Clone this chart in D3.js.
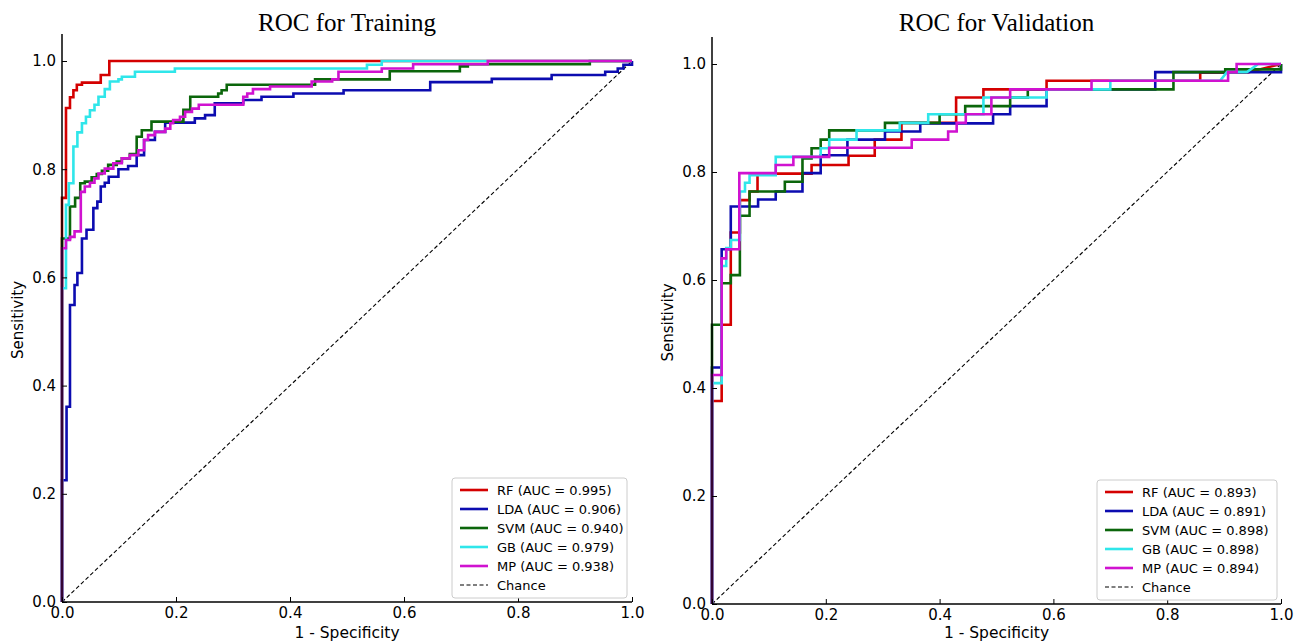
<!DOCTYPE html>
<html>
<head>
<meta charset="utf-8">
<script src="https://cdn.jsdelivr.net/npm/d3@7"></script>
<style>
  body { margin: 0; background: #fff; }
  svg { display: block; }
</style>
</head>
<body>
<svg id="chart" width="1306" height="642"></svg>
<script>
// ---- data ----
const models = ["RF", "LDA", "SVM", "GB", "MP"];
const colors = ["#d40000", "#0c0cb0", "#0b660b", "#2fe6ea", "#d012d0"];
const trainAUC = ["0.995", "0.906", "0.940", "0.979", "0.938"];
const valAUC = ["0.893", "0.891", "0.898", "0.898", "0.894"];
const tickValues = [0, 0.2, 0.4, 0.6, 0.8, 1.0];

// ROC vertices [fpr, tpr]
const trainRF = [[0,0],[0,0.747],[0.007,0.747],[0.007,0.913],[0.014,0.913],[0.014,0.933],[0.02,0.933],[0.02,0.946],[0.026,0.946],[0.026,0.956],[0.035,0.956],[0.035,0.96],[0.068,0.96],[0.068,0.974],[0.083,0.974],[0.083,1],[1,1]];
const trainLDA = [[0,0],[0,0.225],[0.008,0.225],[0.008,0.361],[0.014,0.361],[0.014,0.549],[0.022,0.549],[0.022,0.586],[0.027,0.586],[0.027,0.608],[0.035,0.608],[0.035,0.672],[0.043,0.672],[0.043,0.688],[0.055,0.688],[0.055,0.728],[0.062,0.728],[0.062,0.74],[0.068,0.74],[0.068,0.768],[0.075,0.768],[0.075,0.775],[0.082,0.775],[0.082,0.786],[0.099,0.786],[0.099,0.8],[0.116,0.8],[0.116,0.806],[0.131,0.806],[0.131,0.826],[0.144,0.826],[0.144,0.854],[0.163,0.854],[0.163,0.869],[0.181,0.869],[0.181,0.886],[0.233,0.886],[0.233,0.894],[0.251,0.894],[0.251,0.9],[0.268,0.9],[0.268,0.922],[0.318,0.922],[0.318,0.928],[0.35,0.928],[0.35,0.934],[0.406,0.934],[0.406,0.94],[0.494,0.94],[0.494,0.946],[0.646,0.946],[0.646,0.961],[0.754,0.961],[0.754,0.967],[0.859,0.967],[0.859,0.974],[0.953,0.974],[0.953,0.98],[0.975,0.98],[0.975,0.986],[0.985,0.986],[0.985,0.993],[1,0.993],[1,1]];
const trainSVM = [[0,0],[0,0.672],[0.014,0.672],[0.014,0.731],[0.023,0.731],[0.023,0.747],[0.032,0.747],[0.032,0.774],[0.04,0.774],[0.04,0.777],[0.052,0.777],[0.052,0.785],[0.061,0.785],[0.061,0.791],[0.07,0.791],[0.07,0.797],[0.081,0.797],[0.081,0.808],[0.096,0.808],[0.096,0.814],[0.105,0.814],[0.105,0.82],[0.119,0.82],[0.119,0.828],[0.131,0.828],[0.131,0.86],[0.14,0.86],[0.14,0.872],[0.157,0.872],[0.157,0.888],[0.213,0.888],[0.213,0.91],[0.225,0.91],[0.225,0.934],[0.274,0.934],[0.274,0.94],[0.28,0.94],[0.28,0.946],[0.289,0.946],[0.289,0.956],[0.444,0.956],[0.444,0.966],[0.575,0.966],[0.575,0.981],[0.698,0.981],[0.698,0.99],[0.712,0.99],[0.712,0.994],[0.926,0.994],[0.926,1],[1,1]];
const trainGB = [[0,0],[0,0.58],[0.007,0.58],[0.007,0.734],[0.012,0.734],[0.012,0.774],[0.02,0.774],[0.02,0.842],[0.027,0.842],[0.027,0.868],[0.035,0.868],[0.035,0.885],[0.042,0.885],[0.042,0.897],[0.049,0.897],[0.049,0.909],[0.057,0.909],[0.057,0.919],[0.064,0.919],[0.064,0.934],[0.075,0.934],[0.075,0.948],[0.084,0.948],[0.084,0.962],[0.099,0.962],[0.099,0.966],[0.105,0.966],[0.105,0.971],[0.128,0.971],[0.128,0.98],[0.198,0.98],[0.198,0.986],[0.535,0.986],[0.535,0.993],[0.561,0.993],[0.561,1],[1,1]];
const trainMP = [[0,0],[0,0.654],[0.007,0.654],[0.007,0.669],[0.014,0.669],[0.014,0.675],[0.022,0.675],[0.022,0.685],[0.033,0.685],[0.033,0.758],[0.04,0.758],[0.04,0.768],[0.049,0.768],[0.049,0.775],[0.057,0.775],[0.057,0.783],[0.064,0.783],[0.064,0.792],[0.075,0.792],[0.075,0.801],[0.09,0.801],[0.09,0.811],[0.105,0.811],[0.105,0.82],[0.119,0.82],[0.119,0.826],[0.134,0.826],[0.134,0.835],[0.144,0.835],[0.144,0.854],[0.151,0.854],[0.151,0.863],[0.163,0.863],[0.163,0.869],[0.181,0.869],[0.181,0.875],[0.19,0.875],[0.19,0.885],[0.195,0.885],[0.195,0.891],[0.207,0.891],[0.207,0.897],[0.216,0.897],[0.216,0.906],[0.228,0.906],[0.228,0.912],[0.24,0.912],[0.24,0.919],[0.318,0.919],[0.318,0.934],[0.325,0.934],[0.325,0.94],[0.335,0.94],[0.335,0.948],[0.365,0.948],[0.365,0.953],[0.438,0.953],[0.438,0.962],[0.474,0.962],[0.474,0.966],[0.485,0.966],[0.485,0.98],[0.561,0.98],[0.561,0.986],[0.616,0.986],[0.616,0.994],[0.747,0.994],[0.747,1],[1,1]];

const valRF = [[0,0],[0,0.376],[0.017,0.376],[0.017,0.517],[0.033,0.517],[0.033,0.688],[0.049,0.688],[0.049,0.748],[0.066,0.748],[0.066,0.764],[0.08,0.764],[0.08,0.797],[0.175,0.797],[0.175,0.813],[0.24,0.813],[0.24,0.83],[0.286,0.83],[0.286,0.86],[0.333,0.86],[0.333,0.891],[0.429,0.891],[0.429,0.938],[0.477,0.938],[0.477,0.953],[0.588,0.953],[0.588,0.969],[0.858,0.969],[0.858,0.984],[0.94,0.984],[1,1]];
const valLDA = [[0,0],[0,0.438],[0.017,0.438],[0.017,0.657],[0.033,0.657],[0.033,0.736],[0.081,0.736],[0.081,0.749],[0.112,0.749],[0.112,0.764],[0.159,0.764],[0.159,0.798],[0.191,0.798],[0.191,0.831],[0.238,0.831],[0.238,0.86],[0.304,0.86],[0.304,0.875],[0.366,0.875],[0.366,0.89],[0.494,0.89],[0.494,0.907],[0.524,0.907],[0.524,0.922],[0.588,0.922],[0.588,0.953],[0.779,0.953],[0.779,0.985],[1,0.985],[1,1]];
const valSVM = [[0,0],[0,0.517],[0.017,0.517],[0.017,0.594],[0.033,0.594],[0.033,0.609],[0.049,0.609],[0.049,0.719],[0.066,0.719],[0.066,0.764],[0.128,0.764],[0.128,0.782],[0.159,0.782],[0.159,0.825],[0.175,0.825],[0.175,0.844],[0.191,0.844],[0.191,0.86],[0.206,0.86],[0.206,0.877],[0.304,0.877],[0.304,0.891],[0.4,0.891],[0.4,0.907],[0.445,0.907],[0.445,0.922],[0.524,0.922],[0.524,0.938],[0.555,0.938],[0.555,0.953],[0.811,0.953],[0.811,0.985],[0.902,0.985],[0.902,0.99],[1,0.99],[1,1]];
const valGB = [[0,0],[0,0.409],[0.017,0.409],[0.017,0.626],[0.025,0.626],[0.025,0.659],[0.033,0.659],[0.033,0.674],[0.049,0.674],[0.049,0.764],[0.058,0.764],[0.058,0.78],[0.066,0.78],[0.066,0.794],[0.112,0.794],[0.112,0.828],[0.191,0.828],[0.191,0.844],[0.206,0.844],[0.206,0.86],[0.254,0.86],[0.254,0.877],[0.33,0.877],[0.33,0.891],[0.38,0.891],[0.38,0.907],[0.477,0.907],[0.477,0.938],[0.588,0.938],[0.588,0.953],[0.7,0.953],[0.7,0.969],[0.893,0.969],[0.905,0.985],[0.94,0.985],[0.96,1],[1,1]];
const valMP = [[0,0],[0,0.424],[0.017,0.424],[0.017,0.64],[0.025,0.64],[0.025,0.657],[0.048,0.657],[0.048,0.798],[0.112,0.798],[0.112,0.813],[0.143,0.813],[0.143,0.828],[0.206,0.828],[0.206,0.845],[0.351,0.845],[0.351,0.86],[0.415,0.86],[0.415,0.875],[0.43,0.875],[0.43,0.891],[0.446,0.891],[0.446,0.907],[0.491,0.907],[0.491,0.938],[0.524,0.938],[0.524,0.953],[0.667,0.953],[0.667,0.969],[0.907,0.969],[0.907,0.985],[0.922,0.985],[0.922,1],[1,1]];

// ---- drawing ----
const svg = d3.select("#chart");
const sans = "DejaVu Sans, sans-serif";

function drawPanel(p) {
  const x = d3.scaleLinear().domain([0, 1]).range([p.x0, p.x1]);
  const y = d3.scaleLinear().domain([0, 1]).range([p.y0, p.y1]);
  const yTop = y(1.05);
  const g = svg.append("g");

  // title
  g.append("text")
    .attr("x", (p.x0 + p.x1) / 2)
    .attr("y", 31)
    .attr("text-anchor", "middle")
    .attr("font-family", "Liberation Serif, Times New Roman, serif")
    .attr("font-size", 25)
    .text(p.title);

  // chance line
  g.append("line")
    .attr("x1", x(0)).attr("y1", y(0))
    .attr("x2", x(1)).attr("y2", y(1))
    .attr("stroke", "#000")
    .attr("stroke-width", 1.1)
    .attr("stroke-dasharray", "4,2.5");

  // ROC curves
  const line = d3.line().x((d) => x(d[0])).y((d) => y(d[1]));
  p.curves.forEach((c, i) => {
    g.append("path")
      .datum(c)
      .attr("fill", "none")
      .attr("stroke", colors[i])
      .attr("stroke-width", 2.6)
      .attr("stroke-linejoin", "miter")
      .attr("d", line);
  });

  // axes, ticks pointing inward
  const xAxis = d3.axisTop(x).tickValues(tickValues).tickFormat(d3.format(".1f")).tickSize(5);
  const xg = g.append("g").attr("transform", `translate(0,${p.y0})`).call(xAxis);
  xg.select(".domain").remove();
  xg.selectAll("text")
    .attr("y", 5)
    .attr("dy", "0.71em")
    .attr("font-family", sans)
    .attr("font-size", 15)
    .attr("fill", "#000");
  xg.selectAll("line").attr("stroke", "#000").attr("stroke-width", 1);

  const yAxis = d3.axisRight(y).tickValues(tickValues).tickFormat(d3.format(".1f")).tickSize(5);
  const yg = g.append("g").attr("transform", `translate(${p.x0},0)`).call(yAxis);
  yg.select(".domain").remove();
  yg.selectAll("text")
    .attr("x", -6)
    .attr("text-anchor", "end")
    .attr("font-family", sans)
    .attr("font-size", 15)
    .attr("fill", "#000");
  yg.selectAll("line").attr("stroke", "#000").attr("stroke-width", 1);

  // spines
  g.append("line")
    .attr("x1", p.x0).attr("y1", yTop).attr("x2", p.x0).attr("y2", p.y0)
    .attr("stroke", "#000").attr("stroke-width", 1.5);
  g.append("line")
    .attr("x1", p.x0).attr("y1", p.y0).attr("x2", p.x1).attr("y2", p.y0)
    .attr("stroke", "#000").attr("stroke-width", 1.5);

  // axis labels
  g.append("text")
    .attr("x", (p.x0 + p.x1) / 2)
    .attr("y", 638)
    .attr("text-anchor", "middle")
    .attr("font-family", sans)
    .attr("font-size", 15.5)
    .text("1 - Specificity");
  g.append("text")
    .attr("transform", `translate(${p.x0 - 39},${(p.y0 + yTop) / 2 + 2}) rotate(-90)`)
    .attr("text-anchor", "middle")
    .attr("font-family", sans)
    .attr("font-size", 15)
    .text("Sensitivity");

  // legend
  const lg = g.append("g").attr("transform", `translate(${p.lx},${p.ly})`);
  lg.append("rect")
    .attr("width", p.lw).attr("height", 120)
    .attr("rx", 3)
    .attr("fill", "#fff")
    .attr("stroke", "#cccccc")
    .attr("stroke-width", 1);
  const rows = models.map((m, i) => ({ label: `${m} (AUC = ${p.auc[i]})`, color: colors[i], dash: null }));
  rows.push({ label: "Chance", color: "#000", dash: "4,2.5" });
  rows.forEach((r, i) => {
    const ry = 12 + i * 19;
    lg.append("line")
      .attr("x1", 8).attr("x2", 36).attr("y1", ry).attr("y2", ry)
      .attr("stroke", r.color)
      .attr("stroke-width", r.dash ? 1.1 : 2.6)
      .attr("stroke-dasharray", r.dash);
    lg.append("text")
      .attr("x", 45).attr("y", ry)
      .attr("dy", "0.36em")
      .attr("font-family", sans)
      .attr("font-size", 13)
      .text(r.label);
  });
}

drawPanel({
  title: "ROC for Training",
  x0: 62, x1: 632, y0: 602, y1: 61,
  curves: [trainRF, trainLDA, trainSVM, trainGB, trainMP],
  auc: trainAUC,
  lx: 452, ly: 478, lw: 175
});

drawPanel({
  title: "ROC for Validation",
  x0: 712, x1: 1281, y0: 604, y1: 64,
  curves: [valRF, valLDA, valSVM, valGB, valMP],
  auc: valAUC,
  lx: 1097, ly: 480, lw: 180
});
</script>
</body>
</html>
